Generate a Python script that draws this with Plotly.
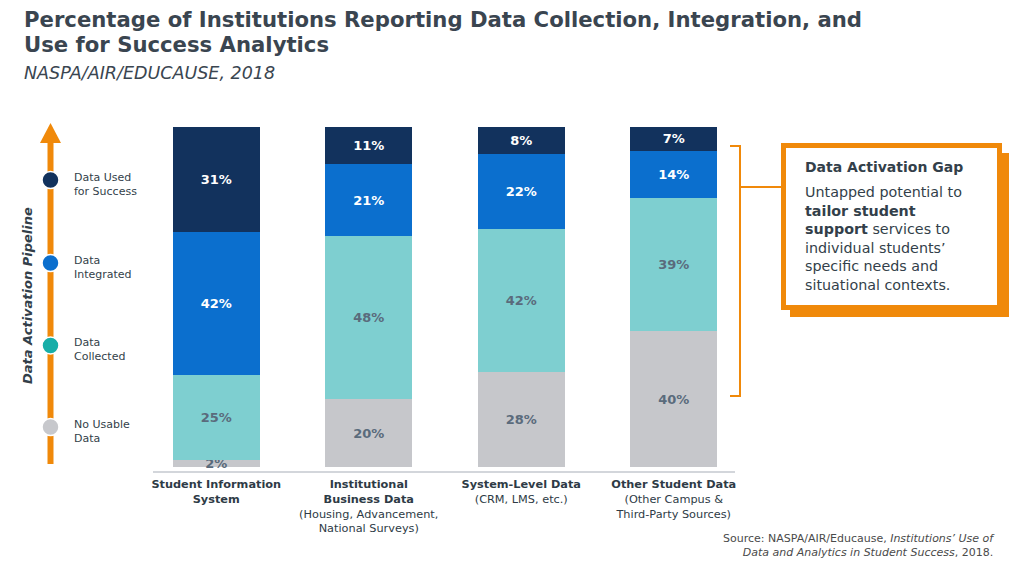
#
# Stacked bars: share of institutions collecting / integrating / using data
# for success analytics (NASPA/AIR/EDUCAUSE 2018)
#
import plotly.graph_objects as go

categories = ["Student Information System", "Institutional Business Data",
              "System-Level Data", "Other Student Data"]
tick_labels = ["<b>Student Information<br>System</b>",
               "<b>Institutional<br>Business Data</b><br>(Housing, Advancement,<br>National Surveys)",
               "<b>System-Level Data</b><br>(CRM, LMS, etc.)<br> <br> ",
               "<b>Other Student Data</b><br>(Other Campus &<br>Third-Party Sources)<br> "]

# stacked bottom to top
no_usable = [2, 20, 28, 40]
collected = [25, 48, 42, 39]
integrated = [42, 21, 22, 14]
used = [31, 11, 8, 7]

series = [
    ("No Usable Data", no_usable, "#C6C7CB", "#5A6B7C"),
    ("Data Collected", collected, "#7ECFD0", "#5A6B7C"),
    ("Data Integrated", integrated, "#0B6FCE", "white"),
    ("Data Used for Success", used, "#12325D", "white"),
]

legend_labels = ["Data Used<br>for Success", "Data<br>Integrated", "Data<br>Collected", "No Usable<br>Data"]
legend_colors = ["#12325D", "#0B6FCE", "#17AEA8", "#C7C8CC"]

# page body keeps an 8px margin, so the figure is 8px smaller on each side
OFF = 8
W, H = 1024 - OFF, 569 - OFF
ORANGE = "#F0890A"
DARK = "#333F4A"
FONT = "DejaVu Sans"


def px(x):
    return (x - OFF) / W


def py(y):
    return 1 - (y - OFF) / H


fig = go.Figure()
for name, vals, color, tcolor in series:
    fig.add_trace(go.Bar(
        name=name, x=categories, y=vals, marker_color=color, marker_line_width=0,
        width=0.57, texttemplate="<b>%{y}%</b>", textposition="inside",
        insidetextanchor="middle", constraintext="none", textangle=0, cliponaxis=False,
        textfont=dict(family=FONT, size=13, color=tcolor), hoverinfo="name+y"))

shapes = []
# baseline
shapes.append(dict(type="line", xref="paper", yref="paper", x0=px(153), x1=px(735),
                   y0=py(472), y1=py(472), layer="below", line=dict(color="#D3D6DB", width=2)))
# pipeline arrow
shapes.append(dict(type="line", xref="paper", yref="paper", x0=px(50.5), x1=px(50.5),
                   y0=py(464), y1=py(140), line=dict(color=ORANGE, width=6)))
shapes.append(dict(type="path", xref="paper", yref="paper",
                   path="M %f %f L %f %f L %f %f Z" % (px(40), py(143), px(61), py(143), px(50.5), py(123)),
                   fillcolor=ORANGE, line=dict(width=0)))
circle_y = [180, 263, 345.5, 427]
for cy, col in zip(circle_y, legend_colors):
    shapes.append(dict(type="circle", xref="paper", yref="paper",
                       x0=px(42), x1=px(59), y0=py(cy + 8.5), y1=py(cy - 8.5),
                       fillcolor=col, line=dict(color="white", width=1.5)))
# bracket
shapes.append(dict(type="path", xref="paper", yref="paper",
                   path="M %f %f L %f %f L %f %f L %f %f" % (px(730), py(146), px(740), py(146),
                                                             px(740), py(396), px(730), py(396)),
                   line=dict(color=ORANGE, width=2)))
shapes.append(dict(type="line", xref="paper", yref="paper", x0=px(740), x1=px(782),
                   y0=py(187), y1=py(187), line=dict(color=ORANGE, width=2)))
# callout box with offset shadow
shapes.append(dict(type="rect", xref="paper", yref="paper", x0=px(790), x1=px(1009),
                   y0=py(317), y1=py(153), fillcolor=ORANGE, line=dict(width=0)))
shapes.append(dict(type="rect", xref="paper", yref="paper", x0=px(783.5), x1=px(999.5),
                   y0=py(307.5), y1=py(145.5), fillcolor="white", line=dict(color=ORANGE, width=5)))

title_font = dict(family=FONT, size=21.2, color="#3A4550")
annotations = [
    dict(x=px(22), y=py(20), xanchor="left", yanchor="middle",
         text="<b>Percentage of Institutions Reporting Data Collection, Integration, and</b>",
         font=title_font),
    dict(x=px(22), y=py(44), xanchor="left", yanchor="middle",
         text="<b>Use for Success Analytics</b>", font=title_font),
    dict(x=px(22), y=py(73), xanchor="left", yanchor="middle",
         text="<i>NASPA/AIR/EDUCAUSE, 2018</i>", font=dict(family=FONT, size=17.5, color="#3A4550")),
    dict(x=px(27), y=py(296), textangle=-90, xanchor="center", yanchor="middle",
         text="<b><i>Data Activation Pipeline</i></b>", font=dict(family=FONT, size=13, color=DARK)),
    dict(x=px(803), y=py(167), xanchor="left", yanchor="middle",
         text="<b>Data Activation Gap</b>", font=dict(family=FONT, size=14, color=DARK)),
    dict(x=px(803), y=py(182), xanchor="left", yanchor="top", align="left",
         text="Untapped potential to<br><b>tailor student<br>support</b> services to<br>"
              "individual students’<br>specific needs and<br>situational contexts.",
         font=dict(family=FONT, size=14.3, color=DARK)),
    dict(x=px(997), y=py(545), xanchor="right", yanchor="middle", align="right",
         text="Source: NASPA/AIR/Educause, <i>Institutions’ Use of</i><br>"
              "<i>Data and Analytics in Student Success</i>, 2018.",
         font=dict(family=FONT, size=11, color="#4A4A4A")),
]
for cy, lab in zip(circle_y, legend_labels):
    annotations.append(dict(x=px(72), y=py(cy + 4), xanchor="left", yanchor="middle", align="left",
                            text=lab, font=dict(family=FONT, size=11, color=DARK)))
for a in annotations:
    a.update(xref="paper", yref="paper", showarrow=False)

fig.update_layout(
    width=W, height=H, barmode="stack", showlegend=False,
    paper_bgcolor="white", plot_bgcolor="white",
    margin=dict(l=0, r=0, t=0, b=0),
    xaxis=dict(domain=[px(140), px(750)], range=[-0.5, 3.5], tickmode="array",
               tickvals=categories, ticktext=tick_labels, showgrid=False, zeroline=False,
               showline=False, ticks="", ticklabelstandoff=9,
               tickfont=dict(family=FONT, size=11.3, color="#2E3B46")),
    yaxis=dict(domain=[py(467), py(127)], range=[0, 100], visible=False),
    shapes=shapes, annotations=annotations,
)

fig.write_html("out.html")
